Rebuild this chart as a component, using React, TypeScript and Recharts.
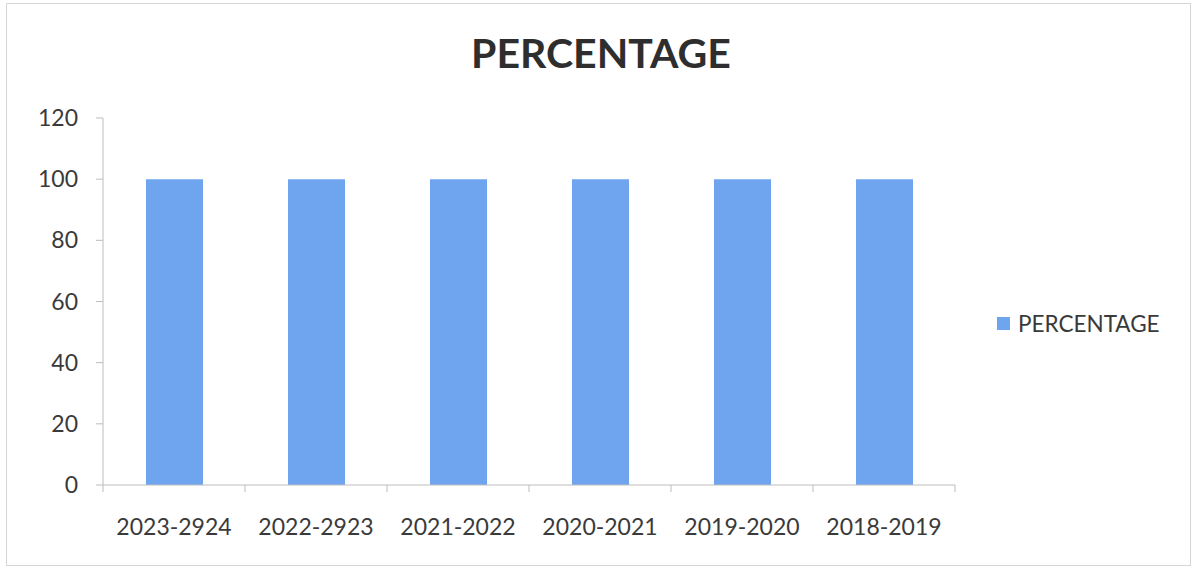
import { BarChart, Bar, XAxis, YAxis, Legend } from 'recharts';

const years = ['2023-2924', '2022-2923', '2021-2022', '2020-2021', '2019-2020', '2018-2019'];
const percentage = [100, 100, 100, 100, 100, 100];
const yTicks = [0, 20, 40, 60, 80, 100, 120];
// category boundaries, for the tick marks between the bars
const slotTicks = [-0.5, 0.5, 1.5, 2.5, 3.5, 4.5, 5.5];

const FONT = 'Lato, "Open Sans", sans-serif';
const TEXT = '#3a3a3a';
const AXIS = '#bdbdbd';
const BAR = '#6fa4ef';

const data = years.map((y, i) => ({ year: y, idx: i, PERCENTAGE: percentage[i] }));

const App = () => {
    return <div style={{ position: 'absolute', left: 0, top: 0, width: 1192, height: 567, background: '#fff', fontFamily: FONT }}>
        <div style={{ position: 'absolute', left: 6, top: 3, right: 1, bottom: 1, border: '1px solid #d6d6d6' }} />
        <div style={{ position: 'absolute', left: 0, width: 1202, top: 28, textAlign: 'center', fontSize: 41, fontWeight: 700, color: '#2e2e2e' }}>
            PERCENTAGE
        </div>
        <BarChart width={1192} height={567} data={data} margin={{ top: 118, right: 237, bottom: 14, left: 0 }}>
            <XAxis xAxisId="b" dataKey="year" height={60} axisLine={false} tickLine={false}
                tickSize={0} tickMargin={26} interval={0}
                tick={{ fill: TEXT, fontSize: 23, fontFamily: FONT }} />
            <XAxis xAxisId="a" dataKey="idx" type="number" domain={[-0.5, 5.5]} allowDataOverflow
                ticks={slotTicks} height={8} tick={() => <g />} tickSize={7} stroke={AXIS} />
            <YAxis domain={[0, 120]} ticks={yTicks} width={103} tickSize={7} tickMargin={18}
                stroke={AXIS} tick={{ fill: TEXT, fontSize: 23, fontFamily: FONT }} />
            <Legend layout="horizontal" align="center" verticalAlign="middle"
                wrapperStyle={{ left: 997, top: 310, width: 'auto' }}
                content={() => <div style={{ display: 'flex', alignItems: 'center', fontSize: 22.5, color: TEXT, fontFamily: FONT }}>
                    <span style={{ display: 'inline-block', width: 13, height: 13, background: BAR, marginRight: 8 }} />
                    PERCENTAGE
                </div>} />
            <Bar xAxisId="b" dataKey="PERCENTAGE" fill={BAR} barSize={57} isAnimationActive={false} />
        </BarChart>
    </div>
}

export default App;
